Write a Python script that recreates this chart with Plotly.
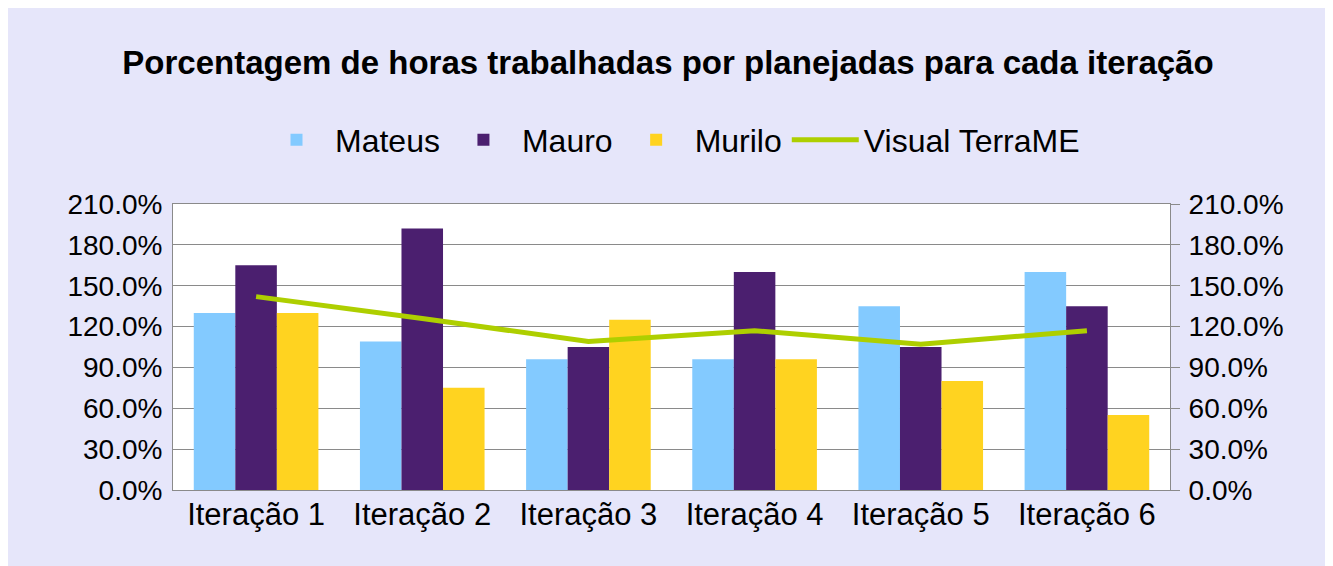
import plotly.graph_objects as go

categories = ["Iteração 1", "Iteração 2", "Iteração 3", "Iteração 4", "Iteração 5", "Iteração 6"]
mateus = [1.30, 1.09, 0.96, 0.96, 1.35, 1.60]
mauro = [1.65, 1.92, 1.05, 1.60, 1.05, 1.35]
murilo = [1.30, 0.75, 1.25, 0.96, 0.80, 0.55]
visual_terrame = [1.42, 1.26, 1.09, 1.17, 1.07, 1.17]
tick_vals = [0, 0.3, 0.6, 0.9, 1.2, 1.5, 1.8, 2.1]

FONT = "Liberation Sans, Arial, sans-serif"
GRID = "#8a8a8a"
BG = "#e6e6fa"

fig = go.Figure()
fig.add_trace(go.Bar(name="Mateus", x=categories, y=mateus, marker=dict(color="#83caff", line=dict(width=0))))
fig.add_trace(go.Bar(name="Mauro", x=categories, y=mauro, marker=dict(color="#4b1f6f", line=dict(width=0))))
fig.add_trace(go.Bar(name="Murilo", x=categories, y=murilo, marker=dict(color="#ffd320", line=dict(width=0))))
fig.add_trace(go.Scatter(name="Visual TerraME", x=categories, y=visual_terrame, mode="lines",
                         line=dict(color="#aecf00", width=5), yaxis="y2"))

W, H = 1333, 566
OFF = 8  # page body margin
L, T = 173 - OFF, 204 - OFF
R = W - (1170 - OFF)
B = H - (490 - OFF)
PH = 286

fig.update_layout(
    width=W, height=H,
    margin=dict(l=L, r=R, t=T, b=B, pad=0),
    paper_bgcolor=BG,
    plot_bgcolor="white",
    font=dict(family=FONT, color="black", size=28),
    barmode="group",
    bargap=0.25,
    bargroupgap=0,
    title=dict(text="<b>Porcentagem de horas trabalhadas por planejadas para cada iteração</b>",
               x=(668 - OFF) / W, xanchor="center", y=1 - (62 - OFF) / H, yanchor="middle",
               font=dict(family=FONT, size=33, color="black")),
    legend=dict(orientation="h", x=0.5, xanchor="center", y=(490 - 140) / PH, yanchor="middle",
                font=dict(family=FONT, size=32, color="black"), bgcolor="rgba(0,0,0,0)",
                itemwidth=67, traceorder="normal"),
    xaxis=dict(showgrid=False, showline=True, linecolor=GRID, linewidth=1, mirror=True,
               ticks="", tickfont=dict(size=31), ticklabelstandoff=-3, zeroline=False),
    yaxis=dict(range=[0, 2.1], tickvals=tick_vals, tickformat=".1%", showgrid=True, gridcolor=GRID,
               gridwidth=1, showline=True, linecolor=GRID, linewidth=1, mirror=True, zeroline=False,
               ticks="", tickfont=dict(size=28), ticklabelstandoff=4),
    yaxis2=dict(range=[0, 2.1], tickvals=tick_vals, tickformat=".1%", overlaying="y", side="right",
                showgrid=False, showline=False, zeroline=False, ticks="outside", ticklen=9,
                tickcolor=GRID, tickwidth=1, tickfont=dict(size=28), ticklabelstandoff=3),
    showlegend=True,
)

fig.write_html("out.html")
